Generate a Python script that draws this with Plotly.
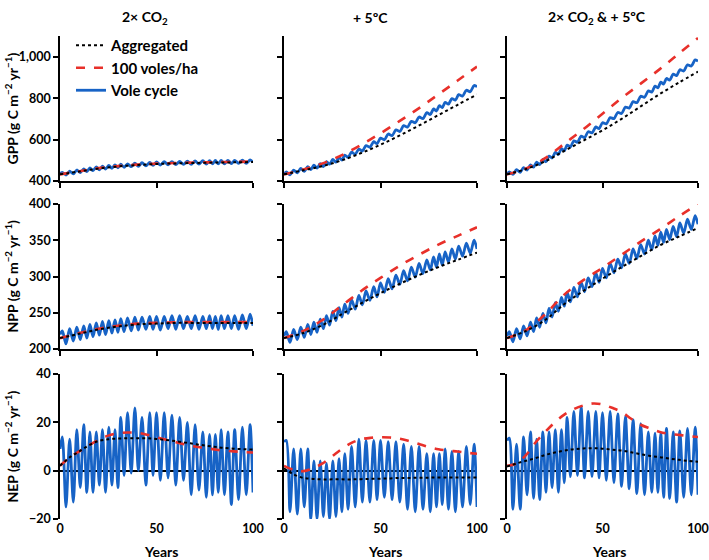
import plotly.graph_objects as go
from plotly.subplots import make_subplots

# =====================================
# DATA
# =====================================

scenarios = ["2× CO<sub>2</sub>", "+ 5ºC", "2× CO<sub>2</sub> &amp; + 5ºC"]
row_titles = [
    "GPP (g C m<sup>−2</sup> yr<sup>−1</sup>)",
    "NPP (g C m<sup>−2</sup> yr<sup>−1</sup>)",
    "NEP (g C m<sup>−2</sup> yr<sup>−1</sup>)",
]

yrs10 = [0, 10, 20, 30, 40, 50, 60, 70, 80, 90, 100]
yrs5 = [0, 5, 10, 15, 20, 25, 30, 35, 40, 45, 50,
        55, 60, 65, 70, 75, 80, 85, 90, 95, 100]

# turning points of the vole cycle (troughs / peaks alternate)
cycle_years = [0, 1.2, 3.1, 5.0, 6.9, 8.7, 10.5, 12.3, 13.9, 15.5,
               17.1, 18.8, 20.4, 22.0, 23.6, 25.3, 26.9, 28.5, 30.0, 31.5,
               33.2, 35.0, 36.9, 38.8, 40.6, 42.5, 44.5, 46.5, 48.2, 50.0,
               52.0, 54.0, 56.0, 58.0, 60.0, 62.0, 64.0, 66.0, 68.0, 70.0,
               72.0, 74.0, 75.8, 77.5, 79.0, 80.5, 82.0, 83.5, 85.2, 87.0,
               88.8, 90.5, 92.5, 94.5, 96.5, 98.5, 100.0]

# GPP
gpp_co2_agg = [432, 446, 460, 470, 477, 482, 485, 487, 489, 490, 492]
gpp_co2_100 = [432, 447, 462, 472, 479, 484, 487, 489, 491, 492, 494]
gpp_co2_cyc = [435, 442, 429, 447, 434, 453, 440, 458, 445, 463,
               450, 468, 454, 472, 458, 475, 461, 478, 464, 481,
               466, 483, 469, 486, 471, 488, 473, 490, 475, 492,
               477, 493, 478, 494, 479, 495, 480, 496, 480, 497,
               481, 498, 482, 498, 483, 499, 483, 499, 483, 500,
               484, 500, 485, 501, 485, 502, 490]

gpp_warm_agg = [432, 452, 472, 500, 535, 575, 620, 668, 718, 768, 818]
gpp_warm_100 = [432, 455, 485, 525, 575, 630, 690, 752, 818, 885, 952]
gpp_warm_cyc = [433, 444, 430, 452, 439, 461, 447, 469, 455, 477,
                462, 484, 470, 493, 481, 504, 491, 514, 501, 525,
                514, 539, 529, 554, 544, 571, 563, 590, 580, 607,
                599, 627, 619, 647, 639, 667, 660, 688, 681, 709,
                701, 730, 721, 748, 738, 764, 754, 780, 771, 798,
                790, 817, 810, 838, 831, 861, 855]

gpp_both_agg = [432, 458, 495, 545, 595, 645, 700, 760, 820, 875, 928]
gpp_both_100 = [432, 460, 510, 580, 650, 725, 800, 870, 940, 1015, 1090]
gpp_both_cyc = [433, 444, 432, 455, 442, 465, 453, 478, 467, 491,
                479, 504, 493, 520, 511, 538, 529, 556, 546, 573,
                565, 594, 587, 617, 609, 638, 632, 661, 653, 681,
                676, 706, 701, 731, 726, 757, 752, 783, 778, 809,
                804, 835, 829, 858, 850, 877, 868, 895, 887, 916,
                909, 937, 931, 961, 955, 985, 978]

# NPP
npp_co2_agg = [215, 221, 227, 231, 234, 235, 236, 236, 236, 236, 236]
npp_co2_100 = [215, 222, 228, 232, 235, 236, 237, 237, 237, 237, 237]
npp_co2_cyc = [220, 225, 207, 228, 211, 230, 213, 232, 215, 234,
               217, 236, 219, 238, 220, 239, 222, 240, 223, 242,
               224, 243, 225, 244, 226, 244, 227, 245, 227, 245,
               226, 245, 228, 246, 227, 246, 228, 245, 228, 246,
               227, 245, 228, 246, 228, 245, 227, 246, 228, 246,
               228, 246, 227, 247, 228, 248, 232]

npp_warm_agg = [215, 222, 233, 248, 263, 277, 290, 302, 313, 323, 333]
npp_warm_100 = [215, 225, 240, 260, 280, 298, 315, 330, 344, 356, 368]
npp_warm_cyc = [218, 224, 209, 227, 213, 230, 216, 234, 220, 237,
                223, 241, 228, 246, 233, 252, 239, 257, 244, 262,
                249, 268, 255, 274, 261, 280, 267, 286, 272, 291,
                278, 297, 283, 302, 289, 308, 294, 313, 299, 318,
                304, 323, 309, 327, 313, 331, 316, 334, 320, 338,
                324, 342, 328, 346, 332, 350, 338]

npp_both_agg = [215, 225, 240, 262, 280, 297, 313, 328, 343, 355, 367]
npp_both_100 = [215, 226, 248, 275, 295, 312, 330, 348, 365, 383, 400]
npp_both_cyc = [218, 224, 210, 228, 214, 232, 218, 237, 224, 243,
                230, 249, 236, 256, 244, 264, 252, 271, 259, 278,
                265, 285, 272, 292, 279, 298, 286, 305, 292, 311,
                298, 318, 305, 324, 312, 331, 318, 338, 325, 344,
                331, 350, 337, 356, 343, 361, 347, 365, 351, 369,
                355, 374, 360, 379, 365, 384, 372]

# NEP
nep_co2_agg = [2, 5.5, 8, 10.5, 12.3, 13, 13.3, 13.4, 13.4, 13.4, 13.1,
               12.7, 12.2, 11.6, 11, 10.4, 9.9, 9.4, 9.1, 8.9, 8.7]
nep_co2_100 = [2, 5.5, 8, 10.5, 12.8, 14.5, 15.5, 15.8, 15.7, 14.9, 13.8,
               12.8, 11.8, 10.8, 10, 9.4, 8.8, 8.3, 8, 7.7, 7.5]
nep_co2_cyc = [9, 14, -15, 13, -13, 17, -7, 19, -9, 16,
               -9, 16, -6, 17, -9, 18, -6, 17, -7, 22,
               -2, 24, -1, 26, 0, 22, -6, 24, -2, 24,
               -4, 24, -3, 23, -6, 22, -4, 20, -10, 19,
               -8, 16, -11, 15, -10, 15, -9, 17, -10, 16,
               -14, 17, -12, 18, -10, 19, -9]

nep_warm_agg = [1, -1.5, -3, -3.4, -3.6, -3.6, -3.6, -3.6, -3.5, -3.4, -3.3,
                -3.2, -3, -3, -2.9, -2.9, -2.8, -2.8, -2.8, -2.8, -2.8]
nep_warm_100 = [2, 0.3, -0.2, 1, 3, 6, 9, 11.5, 13, 13.6, 13.8,
                13.7, 13.2, 12.2, 11, 9.8, 8.9, 8.3, 7.9, 7.4, 7]
nep_warm_cyc = [12, 12.5, -17, 9, -18, 9, -15, 9, -20, 4,
                -20, 4, -19, 3, -20, 4, -19, 5, -17, 7,
                -16, 10, -15, 13, -13, 12.5, -13, 12.5, -12, 12.5,
                -11, 12, -12, 12, -13, 11, -16, 10, -17, 10,
                -16, 7, -17, 7, -15, 7, -14, 9, -16, 8,
                -17, 8, -15, 10, -14, 11, -15]

nep_both_agg = [1.7, 3, 4.1, 5.2, 6.5, 7.5, 8.3, 8.9, 9.2, 9.3, 9.1,
                8.7, 8.3, 7.6, 6.8, 6.1, 5.6, 5, 4.5, 4, 3.7]
nep_both_100 = [2, 3, 6.5, 11.7, 16, 20, 23.2, 25.5, 27, 27.8, 27.4,
                26, 24.3, 21.5, 19, 17.4, 16, 15.2, 14.8, 14.3, 13.9]
nep_both_cyc = [12.5, 13.5, -16, 11, -16, 14, -10, 16, -11.5, 13,
                -12, 16, -9, 16, -7, 17, -9, 17, -5, 22,
                -2.5, 24.5, -2, 26.5, -3, 24.5, -2.5, 24.5, -3, 24,
                -4, 24.5, -5, 23.5, -6.5, 22.5, -7.5, 21, -9.5, 19.5,
                -10, 16, -9, 15.5, -9, 15.5, -11, 17.5, -11.5, 16,
                -13, 16.5, -11, 17.5, -10, 18, -10]

panels = [
    [(yrs10, gpp_co2_agg, gpp_co2_100, gpp_co2_cyc),
     (yrs10, gpp_warm_agg, gpp_warm_100, gpp_warm_cyc),
     (yrs10, gpp_both_agg, gpp_both_100, gpp_both_cyc)],
    [(yrs10, npp_co2_agg, npp_co2_100, npp_co2_cyc),
     (yrs10, npp_warm_agg, npp_warm_100, npp_warm_cyc),
     (yrs10, npp_both_agg, npp_both_100, npp_both_cyc)],
    [(yrs5, nep_co2_agg, nep_co2_100, nep_co2_cyc),
     (yrs5, nep_warm_agg, nep_warm_100, nep_warm_cyc),
     (yrs5, nep_both_agg, nep_both_100, nep_both_cyc)],
]

y_ranges = [[400, 1100], [200, 400], [-20, 40]]
y_ticks = [[400, 600, 800, 1000],
           [200, 250, 300, 350, 400],
           [-20, 0, 20, 40]]
x_ticks = [0, 50, 100]

# =====================================
# GEOMETRY (window pixels, body margin removed below)
# =====================================

W, H = 709, 560


def px(x):
    return x / W


def py(y):
    return 1 - y / H


col_px = [(60, 253), (284, 477), (507, 698)]
row_px = [(36, 181), (204, 349), (374, 519)]

BLUE = "#1763C6"
RED = "#E8302A"
FONT = "Lato"
TICKFONT = dict(family=FONT, size=12.5, color="black", weight="bold")

fig = make_subplots(rows=3, cols=3)

for r in range(3):
    for c in range(3):
        yrs, agg, v100, cyc = panels[r][c]
        first = (r == 0 and c == 0)

        fig.add_trace(
            go.Scatter(
                x=cycle_years, y=cyc, mode="lines",
                name="Vole cycle", legendrank=3,
                line=dict(color=BLUE, width=2.8, shape="spline", smoothing=0.8),
                showlegend=first
            ),
            row=r + 1, col=c + 1
        )
        fig.add_trace(
            go.Scatter(
                x=yrs, y=v100, mode="lines",
                name="100 voles/ha", legendrank=2,
                line=dict(color=RED, width=2.6, dash="dash", shape="spline"),
                showlegend=first
            ),
            row=r + 1, col=c + 1
        )
        fig.add_trace(
            go.Scatter(
                x=yrs, y=agg, mode="lines",
                name="Aggregated", legendrank=1,
                line=dict(color="black", width=2, dash="dot", shape="spline"),
                showlegend=first
            ),
            row=r + 1, col=c + 1
        )

        n = r * 3 + c + 1
        sfx = "" if n == 1 else str(n)
        x0, x1 = col_px[c]
        y0, y1 = row_px[r]
        bottom = (r == 2)

        fig.layout["xaxis" + sfx].update(
            domain=[px(x0), px(x1)],
            range=[0, 100],
            tickvals=x_ticks,
            showticklabels=bottom,
            ticklabeloverflow="allow",
            ticks="" if bottom else "outside",
            ticklen=5, tickwidth=1.5, tickcolor="black",
            showline=not bottom, linecolor="black", linewidth=1.5,
            showgrid=False, zeroline=False, automargin=False,
            tickfont=TICKFONT,
        )
        fig.layout["yaxis" + sfx].update(
            domain=[py(y1), py(y0)],
            range=y_ranges[r],
            tickvals=y_ticks[r],
            tickformat=",",
            showticklabels=(c == 0),
            ticks="outside", ticklen=5, tickwidth=1.5, tickcolor="black",
            showline=True, linecolor="black", linewidth=1.5,
            showgrid=False, automargin=False,
            zeroline=bottom, zerolinecolor="black", zerolinewidth=1.5,
            tickfont=TICKFONT,
        )

# =====================================
# TEXT
# =====================================

title_x = [145, 370, 597]
for c in range(3):
    fig.add_annotation(
        text="<b>" + scenarios[c] + "</b>",
        x=px(title_x[c]), y=py(17), xref="paper", yref="paper",
        showarrow=False, xanchor="center", yanchor="middle",
        font=dict(family=FONT, size=14, color="black")
    )

for r in range(3):
    y0, y1 = row_px[r]
    fig.add_annotation(
        text="<b>" + row_titles[r] + "</b>",
        x=px(12), y=py((y0 + y1) / 2), xref="paper", yref="paper",
        showarrow=False, textangle=-90, xanchor="center", yanchor="middle",
        font=dict(family=FONT, size=14, color="black")
    )

years_x = [161, 385, 609]
for c in range(3):
    fig.add_annotation(
        text="<b>Years</b>",
        x=px(years_x[c]), y=py(551), xref="paper", yref="paper",
        showarrow=False, xanchor="center", yanchor="middle",
        font=dict(family=FONT, size=14, color="black")
    )

# =====================================
# DESIGN
# =====================================

fig.update_layout(
    width=W, height=H,
    margin=dict(l=0, r=0, t=0, b=0),
    paper_bgcolor="white", plot_bgcolor="white",
    font=dict(family=FONT, size=13, color="black"),
    legend=dict(
        x=px(71), y=py(29), xanchor="left", yanchor="top",
        bgcolor="rgba(0,0,0,0)",
        font=dict(family=FONT, size=15, color="black", weight="bold"),
        tracegroupgap=0,
    ),
)

# page body margin off, so the 709 x 560 figure fills the window
fig.write_html(
    "out.html",
    config={"displayModeBar": False},
    post_script="document.body.style.margin='0';"
                "document.body.style.overflow='hidden';"
)
